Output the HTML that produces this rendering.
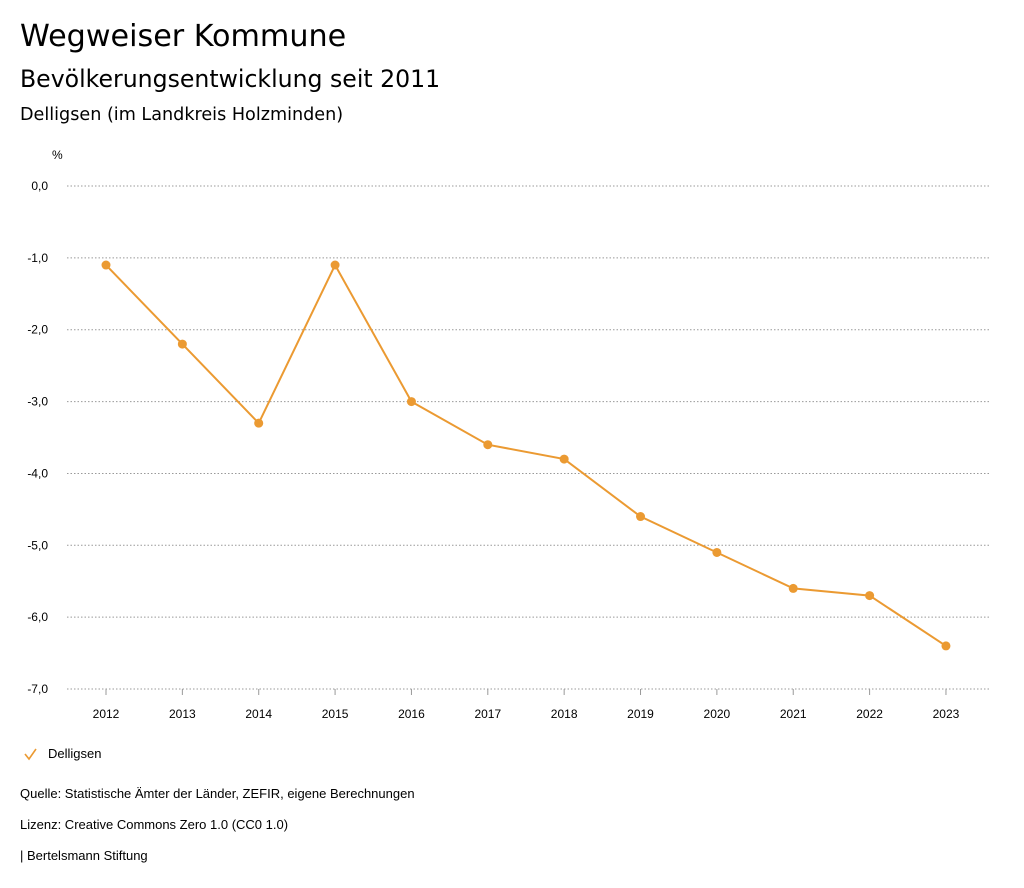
<!DOCTYPE html>
<html><head><meta charset="utf-8"><style>
body{margin:0;background:#fff;font-family:"Liberation Sans","DejaVu Sans",sans-serif;color:#000;}
.t{position:absolute;white-space:nowrap;}
.h{font-family:"DejaVu Sans","Liberation Sans",sans-serif;}
</style></head><body>
<div style="position:relative;width:1024px;height:888px;overflow:hidden">
<div class="t h" style="left:20px;top:19px;font-size:30.2px">Wegweiser Kommune</div>
<div class="t h" style="left:20px;top:65px;font-size:23.6px">Bevölkerungsentwicklung seit 2011</div>
<div class="t h" style="left:20px;top:105px;font-size:17.6px">Delligsen (im Landkreis Holzminden)</div>
<svg id="c" width="1024" height="888" style="position:absolute;left:0;top:0"></svg>
<div class="t" style="left:48px;top:746px;font-size:13px">Delligsen</div>
<div class="t" style="left:20px;top:786px;font-size:13px">Quelle: Statistische Ämter der Länder, ZEFIR, eigene Berechnungen</div>
<div class="t" style="left:20px;top:817px;font-size:13px">Lizenz: Creative Commons Zero 1.0 (CC0 1.0)</div>
<div class="t" style="left:20px;top:848px;font-size:13px">| Bertelsmann Stiftung</div>
</div>
<script>
const years=["2012","2013","2014","2015","2016","2017","2018","2019","2020","2021","2022","2023"];
const values=[-1.1,-2.2,-3.3,-1.1,-3.0,-3.6,-3.8,-4.6,-5.1,-5.6,-5.7,-6.4];
const yTicks=[0,-1,-2,-3,-4,-5,-6,-7];
const yTickLabels=["0,0","-1,0","-2,0","-3,0","-4,0","-5,0","-6,0","-7,0"];
const NS="http://www.w3.org/2000/svg";
const svg=document.getElementById('c');
const y=v=>186+(-v)*71.86;
const x=i=>106+i*76.36;
function mk(t,a){const e=document.createElementNS(NS,t);for(const k in a)e.setAttribute(k,a[k]);svg.appendChild(e);return e;}
let u=mk('text',{x:52,y:159,'font-size':12});u.textContent='%';


yTicks.forEach((v,i)=>{
 const l=mk('line',{x1:67,x2:990,y1:y(v),y2:y(v),stroke:'#999','stroke-dasharray':'1.5,2','stroke-width':1});
 
 
 const t=mk('text',{x:48,y:y(v)+4,'font-size':12,'text-anchor':'end'});t.textContent=yTickLabels[i];
 
 
});
years.forEach((yr,i)=>{
 const tk=mk('line',{x1:x(i),x2:x(i),y1:689,y2:695,stroke:'#999'});
 
 
 const t=mk('text',{x:x(i),y:718,'font-size':12,'text-anchor':'middle'});t.textContent=yr;
 
 
});
const p=mk('polyline',{points:values.map((v,i)=>x(i)+','+y(v)).join(' '),fill:'none',stroke:'#EB9A32','stroke-width':2});


values.forEach((v,i)=>{
 const c=mk('circle',{cx:x(i),cy:y(v),r:4.5,fill:'#EB9A32'});
 
 
});
const lg=mk('polyline',{points:'25,754 29,759 36,749',fill:'none',stroke:'#EB9A32','stroke-width':1.6});


</script>
</body></html>
